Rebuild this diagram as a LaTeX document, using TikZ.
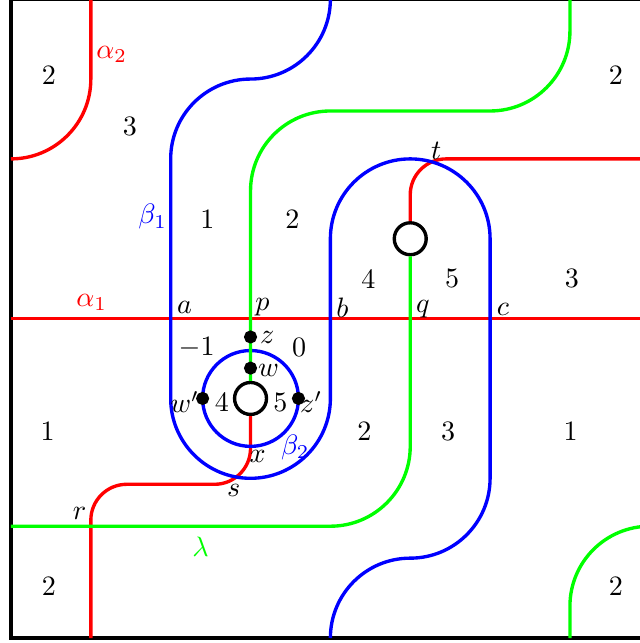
\documentclass[tikz,border=0pt]{standalone}
\begin{document}
\begin{tikzpicture}[line width=1.2pt]
\useasboundingbox (-0.1375,-0.0625) rectangle (7.875,7.99);
\clip (-0.1375,-0.0625) rectangle (7.875,7.99);
\draw (0,0) rectangle (8,8);
% the two holes
\node[draw,circle,minimum size=0.4cm,inner sep=0pt,fill=white] (h1) at (3,3) {};
\node[draw,circle,minimum size=0.4cm,inner sep=0pt,fill=white] (h2) at (5,5) {};
% alpha curves
\draw[red] (0,4) -- (8,4);
\draw[red] (1,8) -- (1,7) arc[start angle=0,end angle=-90,radius=1];
\draw[red,rounded corners=0.45cm] (8,6) -- (5,6) -- (h2.north);
\draw[red,rounded corners=0.45cm] (1,0) -- (1,1.925) -- (3,1.925) -- (h1.south);
% beta curves
\draw[blue] (3,3) circle[radius=0.6];
\draw[blue] (4,8) arc[start angle=0,end angle=-90,radius=1]
  arc[start angle=90,end angle=180,radius=1] -- (2,3)
  arc[start angle=180,end angle=360,radius=1] -- (4,5)
  arc[start angle=180,end angle=0,radius=1] -- (6,2)
  arc[start angle=0,end angle=-90,radius=1]
  arc[start angle=90,end angle=180,radius=1];
% lambda
\draw[green] (0,1.4) -- (4,1.4) arc[start angle=-90,end angle=0,radius=1] -- (h2.south);
\draw[green] (h1.north) -- (3,5.6) arc[start angle=180,end angle=90,radius=1] -- (6,6.6)
  arc[start angle=-90,end angle=0,radius=1] -- (7,8);
\draw[green] (7,0) -- (7,0.4) arc[start angle=180,end angle=90,radius=1];
% base points
\draw[fill] (3,3.77) circle[radius=.06] coordinate (z);
\draw[fill] (3,3.38) circle[radius=.06] coordinate (w);
\draw[fill] (2.4,3) circle[radius=.06] coordinate (w');
\draw[fill] (3.6,3) circle[radius=.06] coordinate (z');
% curve labels
\node[red] (la1) at (1.01,4.2) {$\alpha_1$};
\node[red] (la2) at (1.26,7.31) {$\alpha_2$};
\node[blue] (lb1) at (1.775,5.275) {$\beta_1$};
\node[blue] (lb2) at (3.56,2.39) {$\beta_2$};
\node[green] (llam) at (2.375,1.14) {$\lambda$};
% intersection labels
\node (la) at (2.175,4.14) {$a$};
\node (lp) at (3.15,4.14) {$p$};
\node (lbb) at (4.15,4.14) {$b$};
\node (lq) at (5.16,4.12) {$q$};
\node (lc) at (6.16,4.12) {$c$};
\node (lt) at (5.325,6.1) {$t$};
\node (lr) at (0.86,1.56) {$r$};
\node (ls) at (2.79,1.85) {$s$};
\node (lx) at (3.09,2.275) {$x$};
\node (lz) at (3.21,3.76) {$z$};
\node (lw) at (3.225,3.35) {$w$};
\node (lw') at (2.175,2.95) {$w'$};
\node (lz') at (3.76,2.95) {$z'$};
% region numbers
\node (n1) at (0.475,7.05) {2};
\node (n2) at (1.49,6.41) {3};
\node (n3) at (7.575,7.05) {2};
\node (n4) at (2.46,5.25) {1};
\node (n5) at (3.525,5.25) {2};
\node (n6) at (4.475,4.5) {4};
\node (n7) at (5.525,4.5) {5};
\node (n8) at (7.025,4.5) {3};
\node (n9) at (2.325,3.64) {$-1$};
\node (n10) at (3.61,3.64) {0};
\node (n11) at (2.64,2.95) {4};
\node (n12) at (3.375,2.95) {5};
\node (n13) at (0.46,2.59) {1};
\node (n14) at (4.425,2.59) {2};
\node (n15) at (5.475,2.59) {3};
\node (n16) at (7.01,2.59) {1};
\node (n17) at (0.475,0.65) {2};
\node (n18) at (7.575,0.65) {2};
\end{tikzpicture}
\end{document}
